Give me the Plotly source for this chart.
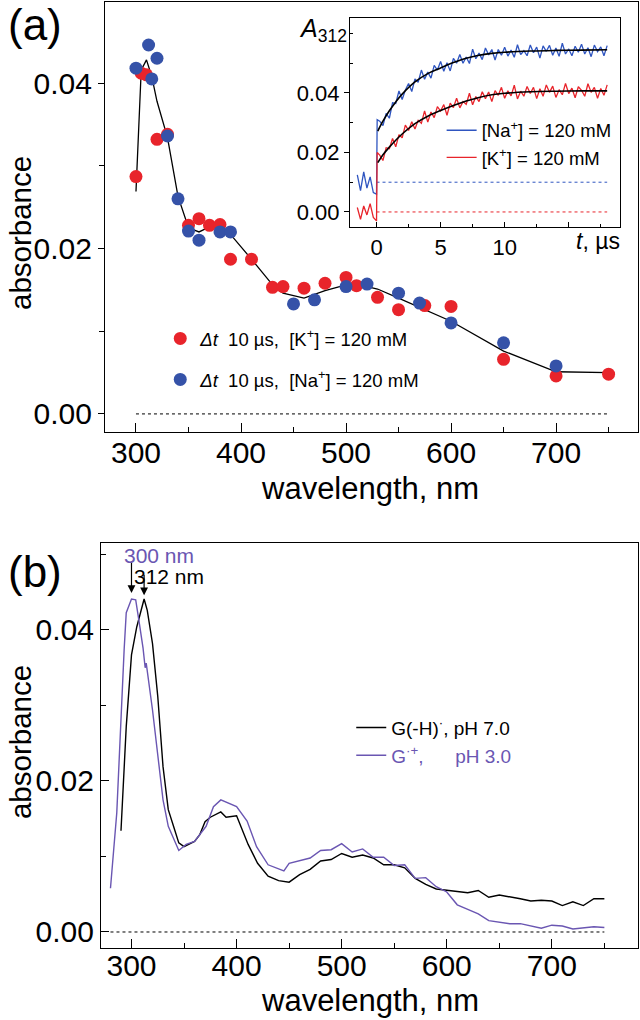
import plotly.graph_objects as go

# ---------------- panel (a): transient spectra ----------------
k_wl = [300, 305, 310, 320, 330, 350, 360, 370, 380, 390, 410, 430, 440, 460, 480,
        500, 510, 530, 550, 575, 600, 650, 700, 750]
k_abs = [0.0287, 0.0412, 0.0410, 0.0332, 0.0338, 0.0228, 0.0236, 0.0228, 0.0229, 0.0187,
         0.0187, 0.0153, 0.0154, 0.0152, 0.0158, 0.0165, 0.0155, 0.0141, 0.0126, 0.0131,
         0.0130, 0.0066, 0.0046, 0.0048]
na_wl = [300, 312, 315, 320, 330, 340, 350, 360, 380, 390, 450, 470, 500, 520, 550, 570,
         600, 650, 700]
na_abs = [0.0418, 0.0446, 0.0405, 0.0430, 0.0336, 0.0260, 0.0221, 0.0210, 0.0220, 0.0220,
          0.0133, 0.0138, 0.0154, 0.0157, 0.0146, 0.0134, 0.0110, 0.0086, 0.0058]
fit_wl = [300, 305, 310, 315, 320, 330, 340, 350, 360, 370, 380, 390, 410, 430, 440, 460,
          480, 500, 520, 530, 550, 575, 600, 650, 700, 750]
fit_abs = [0.0269, 0.0416, 0.0428, 0.0408, 0.0378, 0.0334, 0.0263, 0.0225, 0.0220, 0.0226,
           0.0226, 0.0217, 0.0187, 0.0156, 0.0146, 0.0140, 0.0149, 0.0156, 0.0154, 0.0151,
           0.0140, 0.0126, 0.0112, 0.0076, 0.0051, 0.0050]
zero_a_wl = [300, 750]
zero_a_abs = [0, 0]

# ---------------- inset: kinetics at 312 nm ----------------
t_trace = [-1.5, -1.25, -1.0, -0.75, -0.5, -0.25, 0.0, 0.05, 0.25, 0.5, 0.75, 1.0, 1.25,
           1.5, 1.75, 2.0, 2.25, 2.5, 2.75, 3.0, 3.25, 3.5, 3.75, 4.0, 4.25, 4.5, 4.75,
           5.0, 5.25, 5.5, 5.75, 6.0, 6.25, 6.5, 6.75, 7.0, 7.25, 7.5, 7.75, 8.0, 8.25,
           8.5, 8.75, 9.0, 9.25, 9.5, 9.75, 10.0, 10.25, 10.5, 10.75, 11.0, 11.25, 11.5,
           11.75, 12.0, 12.25, 12.5, 12.75, 13.0, 13.25, 13.5, 13.75, 14.0, 14.25, 14.5,
           14.75, 15.0, 15.25, 15.5, 15.75, 16.0, 16.25, 16.5, 16.75, 17.0, 17.25, 17.5,
           17.75, 18.0]
na_trace = [0.0125, 0.0072, 0.0135, 0.0080, 0.0118, 0.0065, 0.0060, 0.0310,
            0.0305, 0.0290, 0.0331, 0.0315, 0.0367, 0.0365, 0.0407, 0.0378, 0.0410, 0.0432,
            0.0405, 0.0447, 0.0436, 0.0477, 0.0446, 0.0470, 0.0450, 0.0493, 0.0477, 0.0506,
            0.0473, 0.0502, 0.0474, 0.0516, 0.0500, 0.0529, 0.0500, 0.0521, 0.0499, 0.0547,
            0.0515, 0.0534, 0.0512, 0.0551, 0.0528, 0.0546, 0.0511, 0.0546, 0.0527, 0.0554,
            0.0524, 0.0544, 0.0520, 0.0562, 0.0529, 0.0542, 0.0525, 0.0561, 0.0535, 0.0554,
            0.0517, 0.0558, 0.0540, 0.0560, 0.0527, 0.0551, 0.0523, 0.0567, 0.0531, 0.0548,
            0.0525, 0.0557, 0.0537, 0.0564, 0.0531, 0.0552, 0.0522, 0.0561, 0.0539, 0.0555,
            0.0525, 0.0559]
k_trace = [0.0015, -0.0025, 0.0020, -0.0010, 0.0028, -0.0018, -0.0030, 0.0200,
           0.0191, 0.0173, 0.0216, 0.0213, 0.0247, 0.0219, 0.0260, 0.0249, 0.0292, 0.0274,
           0.0303, 0.0279, 0.0308, 0.0298, 0.0340, 0.0302, 0.0336, 0.0317, 0.0354, 0.0339,
           0.0361, 0.0325, 0.0366, 0.0351, 0.0382, 0.0350, 0.0371, 0.0362, 0.0399, 0.0360,
           0.0388, 0.0371, 0.0404, 0.0381, 0.0403, 0.0371, 0.0408, 0.0392, 0.0419, 0.0382,
           0.0407, 0.0390, 0.0426, 0.0380, 0.0406, 0.0389, 0.0422, 0.0398, 0.0419, 0.0381,
           0.0414, 0.0389, 0.0427, 0.0402, 0.0423, 0.0385, 0.0411, 0.0394, 0.0432, 0.0398,
           0.0416, 0.0384, 0.0421, 0.0409, 0.0389, 0.0431, 0.0402, 0.0419, 0.0382, 0.0415,
           0.0392, 0.0427]
t_fit = [0.1, 0.5, 1, 1.5, 2, 3, 4, 5, 6, 7, 8, 9, 10, 12, 14, 16, 18]
na_fit = [0.0272, 0.0305, 0.0340, 0.0370, 0.0396, 0.0437, 0.0465, 0.0484, 0.0502, 0.0517,
          0.0527, 0.0533, 0.0537, 0.0541, 0.0543, 0.0544, 0.0545]
k_fit = [0.0166, 0.0192, 0.0218, 0.0241, 0.0262, 0.0297, 0.0322, 0.0341, 0.0358, 0.0373,
         0.0385, 0.0394, 0.0399, 0.0404, 0.0406, 0.0407, 0.0407]
base_t = [0, 18]
na_base = [0.01, 0.01]
k_base = [0.0, 0.0]

# ---------------- panel (b): reference spectra ----------------
gh_wl = [290, 295, 300, 305, 312, 315, 320, 325, 330, 335, 340, 345, 350, 360, 365, 370,
         375, 385, 390, 400, 411, 420, 430, 440, 450, 460, 470, 480, 490, 500, 510, 520,
         530, 540, 550, 560, 570, 580, 590, 600, 610, 620, 630, 640, 650, 660, 670, 680,
         690, 700, 710, 720, 730, 740, 750]
gh_abs = [0.0134, 0.0272, 0.0367, 0.0404, 0.0441, 0.0426, 0.0382, 0.0312, 0.0219, 0.0162,
          0.0140, 0.0118, 0.0113, 0.0120, 0.0129, 0.0146, 0.0152, 0.0159, 0.0152, 0.0154,
          0.0116, 0.0091, 0.0074, 0.0068, 0.0066, 0.0076, 0.0083, 0.0094, 0.0096, 0.0104,
          0.0099, 0.0102, 0.0098, 0.0089, 0.0089, 0.0085, 0.0071, 0.0063, 0.0057, 0.0055,
          0.0053, 0.0052, 0.0055, 0.0046, 0.0049, 0.0046, 0.0044, 0.0041, 0.0042, 0.0041,
          0.0035, 0.0040, 0.0035, 0.0044, 0.0044]
gp_wl = [280, 286, 293, 295, 300, 304, 307, 311, 313, 314, 320, 325, 330, 335, 345, 352,
         360, 371, 378, 385, 400, 410, 419, 430, 440, 445, 450, 460, 470, 480, 490, 500,
         510, 520, 530, 540, 550, 560, 570, 580, 590, 600, 610, 620, 630, 640, 650, 660,
         670, 680, 690, 700, 710, 720, 730, 740, 750]
gp_abs = [0.0058, 0.0158, 0.0374, 0.0423, 0.0441, 0.0440, 0.0413, 0.0376, 0.0350, 0.0356,
          0.0294, 0.0232, 0.0175, 0.0140, 0.0108, 0.0116, 0.0120, 0.0140, 0.0166, 0.0175,
          0.0166, 0.0147, 0.0113, 0.0089, 0.0083, 0.0081, 0.0091, 0.0095, 0.0098, 0.0108,
          0.0109, 0.0117, 0.0106, 0.0110, 0.0099, 0.0099, 0.0088, 0.0089, 0.0071, 0.0072,
          0.0060, 0.0053, 0.0036, 0.0030, 0.0024, 0.0015, 0.0013, 0.0011, 0.0011, 0.0008,
          0.0005, 0.0009, 0.0008, 0.0004, 0.0005, 0.0007, 0.0006]
zero_b_wl = [280, 750]
zero_b_abs = [0, 0]
peak_gp = [300, 0.0449]
peak_gh = [312, 0.0446]

FONT = "Liberation Sans, Arial, sans-serif"
RED = "#e8242b"
BLUE = "#3552a8"
TRACE_BLUE = "#2f55c0"
PURPLE = "#6a56b2"
NB = "\u00a0"
ZERO_DASH = "3px,3px"

fig = go.Figure()

# panel (a)
fig.add_trace(go.Scatter(x=zero_a_wl, y=zero_a_abs, mode="lines", xaxis="x", yaxis="y",
                         line=dict(color="black", width=1, dash=ZERO_DASH), showlegend=False))
fig.add_trace(go.Scatter(x=fit_wl, y=fit_abs, mode="lines", xaxis="x", yaxis="y",
                         line=dict(color="black", width=1.3), showlegend=False))
fig.add_trace(go.Scatter(x=k_wl, y=k_abs, mode="markers", xaxis="x", yaxis="y",
                         marker=dict(color=RED, size=13), legend="legend", legendgroup="k",
                         name=f"<i>Δt</i>{NB}{NB}10 µs,{NB}{NB}[K<sup>+</sup>] = 120 mM"))
fig.add_trace(go.Scatter(x=na_wl, y=na_abs, mode="markers", xaxis="x", yaxis="y",
                         marker=dict(color=BLUE, size=13), legend="legend", legendgroup="na",
                         name=f"<i>Δt</i>{NB}{NB}10 µs,{NB}{NB}[Na<sup>+</sup>] = 120 mM"))

# inset
fig.add_trace(go.Scatter(x=base_t, y=na_base, mode="lines", xaxis="x3", yaxis="y3",
                         line=dict(color=TRACE_BLUE, width=1, dash="dot"), showlegend=False))
fig.add_trace(go.Scatter(x=base_t, y=k_base, mode="lines", xaxis="x3", yaxis="y3",
                         line=dict(color=RED, width=1, dash="dot"), showlegend=False))
fig.add_trace(go.Scatter(x=t_trace, y=na_trace, mode="lines", xaxis="x3", yaxis="y3",
                         line=dict(color=TRACE_BLUE, width=1.3), legend="legend2",
                         name="[Na<sup>+</sup>] = 120 mM"))
fig.add_trace(go.Scatter(x=t_trace, y=k_trace, mode="lines", xaxis="x3", yaxis="y3",
                         line=dict(color=RED, width=1.3), legend="legend2",
                         name="[K<sup>+</sup>] = 120 mM"))
fig.add_trace(go.Scatter(x=t_fit, y=na_fit, mode="lines", xaxis="x3", yaxis="y3",
                         line=dict(color="black", width=1.6, shape="spline"), showlegend=False))
fig.add_trace(go.Scatter(x=t_fit, y=k_fit, mode="lines", xaxis="x3", yaxis="y3",
                         line=dict(color="black", width=1.6, shape="spline"), showlegend=False))

# panel (b)
fig.add_trace(go.Scatter(x=zero_b_wl, y=zero_b_abs, mode="lines", xaxis="x2", yaxis="y2",
                         line=dict(color="black", width=1, dash=ZERO_DASH), showlegend=False))
fig.add_trace(go.Scatter(x=gh_wl, y=gh_abs, mode="lines", xaxis="x2", yaxis="y2",
                         line=dict(color="black", width=1.4), legend="legend3",
                         name="G(-H)<sup>·</sup>, pH 7.0"))
fig.add_trace(go.Scatter(x=gp_wl, y=gp_abs, mode="lines", xaxis="x2", yaxis="y2",
                         line=dict(color=PURPLE, width=1.4), legend="legend3",
                         name=f"<span style='color:{PURPLE}'>G<sup>·+</sup>,{NB*6}pH 3.0</span>"))

axis_common = dict(showline=True, linecolor="black", linewidth=1.3, mirror=True,
                   showgrid=False, zeroline=False, tickcolor="black", tickwidth=1.2,
                   tickfont=dict(family=FONT, size=30, color="black"))

fig.update_layout(
    width=640, height=1020,
    margin=dict(l=100, r=2, t=2, b=72),
    paper_bgcolor="white", plot_bgcolor="white",
    font=dict(family=FONT, color="black"),
    xaxis=dict(axis_common, domain=[0.0093, 1], range=[270.5, 778], anchor="y",
               ticks="inside", ticklen=9, dtick=100, tick0=300, ticklabelstandoff=-6,
               minor=dict(dtick=50, ticks="inside", ticklen=5, tickcolor="black", tickwidth=1.2)),
    yaxis=dict(axis_common, domain=[0.5455, 1], range=[-0.00218, 0.0498], anchor="x",
               ticks="outside", ticklen=6, dtick=0.02, tick0=0, tickformat=".2f",
               minor=dict(dtick=0.01, ticks="outside", ticklen=5, tickcolor="black", tickwidth=1.2)),
    xaxis4=dict(overlaying="x", side="top", anchor="y", domain=[0.0093, 1], range=[270.5, 778],
                tickvals=[350, 450, 550, 650, 750], ticks="inside", ticklen=5,
                tickcolor="black", tickwidth=1.2, showticklabels=False, showgrid=False,
                zeroline=False, showline=False),
    xaxis2=dict(axis_common, domain=[0.0019, 1], range=[271, 782], anchor="y2",
                ticks="inside", ticklen=9, dtick=100, tick0=300, ticklabelstandoff=-9,
                minor=dict(dtick=50, ticks="inside", ticklen=5, tickcolor="black", tickwidth=1.2)),
    yaxis2=dict(axis_common, domain=[0, 0.4281], range=[-0.00212, 0.05152], anchor="x2",
                ticks="inside", ticklen=8, dtick=0.02, tick0=0, tickformat=".2f",
                minor=dict(dtick=0.01, ticks="inside", ticklen=5, tickcolor="black", tickwidth=1.2)),
    xaxis3=dict(axis_common, domain=[0.4647, 0.9665], range=[-2.07, 19.0], anchor="y3",
                ticks="inside", ticklen=5, tickvals=[0, 5, 10, 15], ticktext=["0", "5", "10", ""],
                tickfont=dict(family=FONT, size=22, color="black"),
                minor=dict(tickvals=[2.5, 7.5, 12.5, 17.5], ticks="inside", ticklen=3,
                           tickcolor="black", tickwidth=1)),
    yaxis3=dict(axis_common, domain=[0.7622, 0.9831], range=[-0.00504, 0.0652], anchor="x3",
                ticks="outside", ticklen=5, tickvals=[0, 0.02, 0.04],
                ticktext=["0.00", "0.02", "0.04"],
                tickfont=dict(family=FONT, size=22, color="black"),
                minor=dict(tickvals=[0.01, 0.03, 0.05, 0.06], ticks="inside", ticklen=3,
                           tickcolor="black", tickwidth=1)),
    legend=dict(x=0.112, y=0.664, xanchor="left", yanchor="top", bgcolor="rgba(0,0,0,0)",
                font=dict(family=FONT, size=18.5, color="black"), traceorder="grouped",
                tracegroupgap=14, itemclick=False),
    legend2=dict(x=0.635, y=0.884, xanchor="left", yanchor="top", bgcolor="rgba(0,0,0,0)",
                 font=dict(family=FONT, size=18.5, color="black"), tracegroupgap=0),
    legend3=dict(x=0.467, y=0.253, xanchor="left", yanchor="top", bgcolor="rgba(0,0,0,0)",
                 font=dict(family=FONT, size=19, color="black")),
    showlegend=True,
)

C = dict(xanchor="center", yanchor="middle", showarrow=False, xref="paper", yref="paper")
ann = []
# axis titles
ann.append(dict(C, text="absorbance", x=-0.1487, y=0.7558, textangle=-90, font=dict(size=29.5)))
ann.append(dict(C, text="absorbance", x=-0.1487, y=0.2177, textangle=-90, font=dict(size=29.5)))
ann.append(dict(C, text="wavelength, nm", x=0.502, y=0.4862, font=dict(size=31)))
ann.append(dict(C, text="wavelength, nm", x=0.502, y=-0.0555, font=dict(size=31)))
# panel letters
ann.append(dict(C, text="(a)", x=-0.1208, y=0.9767, font=dict(size=44)))
ann.append(dict(C, text="(b)", x=-0.1208, y=0.3975, font=dict(size=44)))
# inset labels
ann.append(dict(C, text="<i>A</i><sub>312</sub>", x=0.4145, y=0.9704, font=dict(size=25)))
ann.append(dict(C, text="<i>t</i>, µs", x=0.9257, y=0.7474, font=dict(size=23)))
# peak arrows
ann.append(dict(text="", x=peak_gp[0], y=peak_gp[1], xref="x2", yref="y2", ax=0, ay=-32,
                showarrow=True, arrowhead=2, arrowsize=1.3, arrowwidth=1.2, arrowcolor="black"))
ann.append(dict(text="", x=peak_gh[0], y=peak_gh[1], xref="x2", yref="y2", ax=0, ay=-22,
                showarrow=True, arrowhead=2, arrowsize=1.3, arrowwidth=1.2, arrowcolor="black"))
ann.append(dict(C, text="300 nm", x=0.1097, y=0.4154, font=dict(size=21, color=PURPLE)))
ann.append(dict(C, text="312 nm", x=0.1283, y=0.3922, font=dict(size=21, color="black")))
fig.update_layout(annotations=ann)

fig.write_html("out.html", config={"displayModeBar": False},
               post_script="document.body.style.margin='0px';")
